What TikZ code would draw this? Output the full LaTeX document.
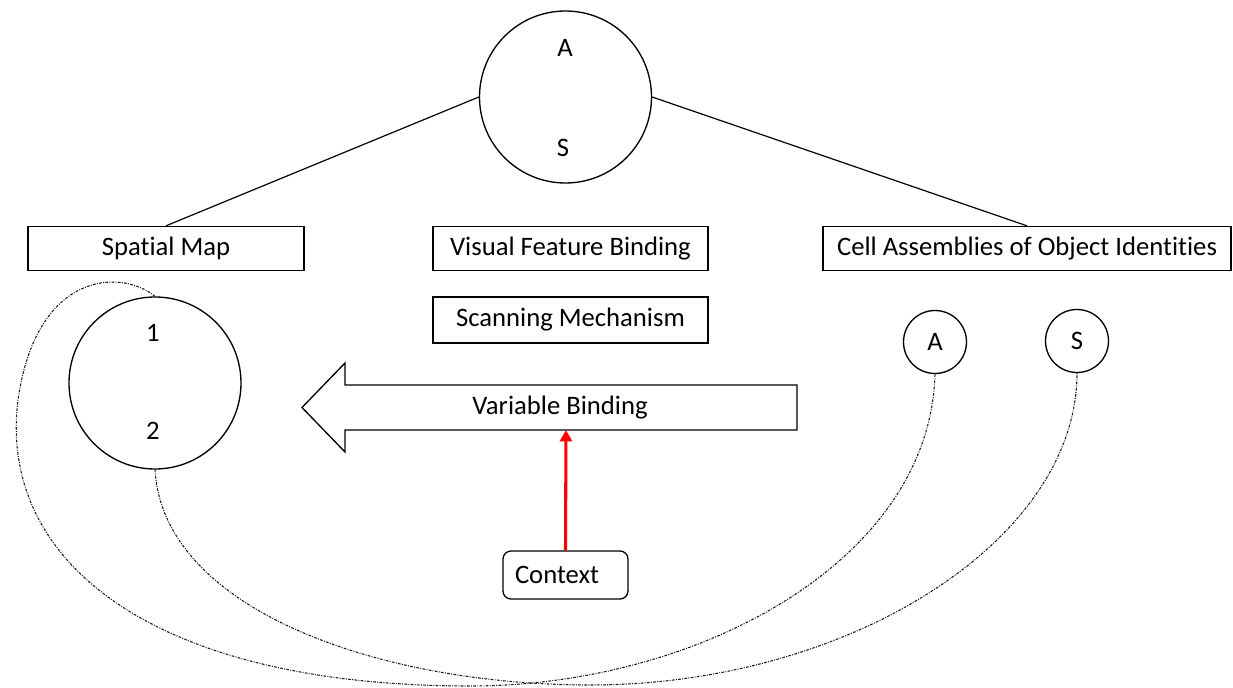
\documentclass[tikz,border=0pt]{standalone}
\usepackage{fontspec}
\setmainfont{Carlito}[Ligatures=NoCommon]
\usetikzlibrary{arrows.meta}
\newlength\pxu
\setlength\pxu{0.75pt}
\tikzset{
  labelbox/.style={draw, line width=1pt, rectangle, inner sep=0pt, minimum height=44\pxu},
  bigcirc/.style={draw, line width=1pt, circle, inner sep=0pt, minimum size=172\pxu},
  smallcirc/.style={draw, line width=1pt, circle, inner sep=0pt, minimum size=63\pxu},
  tag/.style={inner sep=0pt},
  link/.style={line width=0.9pt},
  tie/.style={line width=0.8pt, draw=black!90, dash pattern=on 2pt off 1pt on 0.7pt off 1pt},
  push/.style={line width=2.3pt, draw=red, -{Triangle[length=8.5pt,width=9pt]}}
}
\begin{document}
\begin{tikzpicture}[x=0.75pt, y=-0.75pt, font=\fontsize{20}{24}\selectfont]
\useasboundingbox (0,0) rectangle (1233,688);

% object hub
\node[bigcirc] (hub) at (565.5,97) {};
\node[tag] (hubA) at (565,48) {A};
\node[tag] (hubS) at (563,148) {S};

% top-level boxes
\node[labelbox, minimum width=276\pxu] (sm) at (166,248.5) {Spatial Map};
\node[labelbox, minimum width=275\pxu] (vfb) at (570.5,248.5) {Visual Feature Binding};
\node[labelbox, minimum width=408\pxu] (ca) at (1027,248.5) {Cell Assemblies of Object Identities};
\node[labelbox, minimum width=275\pxu, minimum height=46\pxu] (scan) at (570.5,320) {Scanning Mechanism};

\draw[link] (hub.west) -- (sm.north);
\draw[link] (hub.east) -- (ca.north);

% spatial map with two locations
\node[bigcirc] (loc) at (155,383) {};
\node[tag] (loc1) at (153,333) {1};
\node[tag] (loc2) at (153,431) {2};

% object identity assemblies
\node[smallcirc] (idA) at (935,342) {};
\node[tag] at (idA) {A};
\node[smallcirc] (idS) at (1077,341) {};
\node[tag] at (idS) {S};

% variable binding block arrow
\draw[line width=1pt] (797,385) -- (345,385) -- (345,363) -- (302,407.5)
  -- (345,452) -- (345,430) -- (797,430) -- cycle;
\node[tag] (vb) at (560,408) {Variable Binding};
\coordinate (vbfoot) at (566,430);

% context feeding the binding
\node[draw, line width=1pt, rounded corners=8\pxu, inner xsep=12\pxu, inner ysep=0pt,
      text width=101\pxu, align=left, minimum height=48\pxu] (ctx) at (565.5,575) {Context};
\draw[push] (ctx.north) -- (vbfoot);

% bindings between locations and identities
\draw[tie] (loc.north) .. controls (120,268) and (36,272) .. (18,400)
  .. controls (-2,560) and (150,686) .. (470,686)
  .. controls (700,686) and (930,560) .. (idA.south);
\draw[tie] (loc.south) .. controls (163,610) and (380,685) .. (590,685)
  .. controls (850,685) and (1077,540) .. (idS.south);
\end{tikzpicture}
\end{document}
